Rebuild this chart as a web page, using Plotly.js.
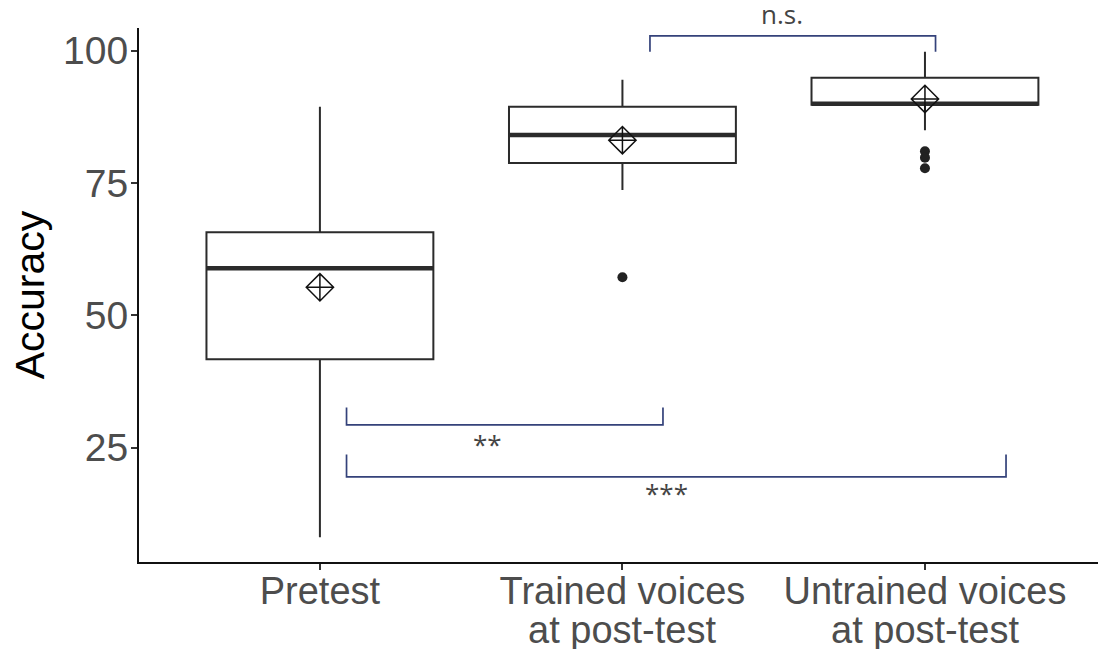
<!DOCTYPE html>
<html>
<head>
<meta charset="utf-8">
<script src="https://cdn.plot.ly/plotly-3.0.1.min.js"></script>
<style>
  html, body { margin: 0; padding: 0; background: #fff; }
  #chart { width: 1098px; height: 649px; }
</style>
</head>
<body>
<div id="chart"></div>
<script>
// Accuracy by test condition: box summaries, means and outliers
const groups = ["Pretest", "Trained voices", "Untrained voices"];
const groupSubline = ["", "at post-test", "at post-test"];
const groupPos = [0, 1, 2];

const q1Values      = [41.7, 78.8, 89.8];
const medianValues  = [58.9, 84.1, 90.0];
const q3Values      = [65.7, 89.4, 94.9];
const lowerWhisker  = [8.1, 73.7, 85.0];
const upperWhisker  = [89.4, 94.5, 99.8];
const meanValues    = [55.3, 83.1, 90.9];

// Individual outlying scores
const outlierGroup = [1, 2, 2, 2];
const outlierValue = [57.2, 81.0, 79.8, 77.8];

// Pairwise comparisons: from group, to group, bar level, tip level, label
const cmpFrom  = [1.091, 0.088, 0.088];
const cmpTo    = [2.035, 1.134, 2.268];
const cmpLevel = [102.8, 29.3, 19.5];
const cmpTip   = [99.8, 32.6, 23.7];
const cmpLabel = ["n.s.", "**", "***"];
const cmpLabelX = [1.529, 0.554, 1.147];
const cmpLabelY = [102.8, 25.7, 16.4];
const cmpLabelShift = [22, 0, 0];

const yTicks = [25, 50, 75, 100];

const BOX_W = 0.75;
const ink = "#2b2b2b";
const axisFont = "Liberation Sans, Arial, sans-serif";

const boxTrace = {
  type: "box",
  x: groupPos,
  q1: q1Values,
  median: medianValues,
  q3: q3Values,
  lowerfence: lowerWhisker,
  upperfence: upperWhisker,
  width: BOX_W,
  whiskerwidth: 0,
  boxpoints: false,
  fillcolor: "#ffffff",
  line: { color: ink, width: 2 },
  hoverinfo: "skip",
  showlegend: false
};

// Heavier median bars drawn over each box
const medX = [], medY = [];
groupPos.forEach((g, i) => {
  medX.push(g - BOX_W / 2, g + BOX_W / 2, null);
  medY.push(medianValues[i], medianValues[i], null);
});
const medianTrace = {
  type: "scatter", mode: "lines",
  x: medX, y: medY,
  line: { color: ink, width: 4.5 },
  hoverinfo: "skip", showlegend: false
};

const outlierTrace = {
  type: "scatter", mode: "markers",
  x: outlierGroup, y: outlierValue,
  marker: { symbol: "circle", size: 10, color: "#222222" },
  hoverinfo: "skip", showlegend: false
};

const meanTrace = {
  type: "scatter", mode: "markers",
  x: groupPos, y: meanValues,
  marker: { symbol: "diamond-cross-open", size: 21, color: "#111111", line: { width: 1.5, color: "#111111" } },
  hoverinfo: "skip", showlegend: false
};

// Comparison brackets
const brX = [], brY = [];
cmpFrom.forEach((a, i) => {
  brX.push(a, a, cmpTo[i], cmpTo[i], null);
  brY.push(cmpTip[i], cmpLevel[i], cmpLevel[i], cmpTip[i], null);
});
const bracketTrace = {
  type: "scatter", mode: "lines",
  x: brX, y: brY,
  line: { color: "#34427a", width: 1.7 },
  cliponaxis: false,
  hoverinfo: "skip", showlegend: false
};

const annotations = cmpLabel.map((t, i) => ({
  x: cmpLabelX[i], y: cmpLabelY[i], xref: "x", yref: "y",
  yshift: cmpLabelShift[i],
  text: t, showarrow: false,
  font: { family: "Open Sans, sans-serif", size: 26, color: "#444444" },
  xanchor: "center", yanchor: "middle"
}));

// Second line of the category names, set under the axis labels
groupSubline.forEach((t, i) => {
  if (!t) return;
  annotations.push({
    x: groupPos[i], y: -0.127, xref: "x", yref: "paper",
    text: t, showarrow: false,
    font: { family: axisFont, size: 38, color: "#4d4d4d" },
    xanchor: "center", yanchor: "middle"
  });
});

const layout = {
  width: 1098, height: 649,
  margin: { l: 139, r: 0, t: 28, b: 87 },
  paper_bgcolor: "#ffffff",
  plot_bgcolor: "#ffffff",
  showlegend: false,
  xaxis: {
    range: [-0.598, 2.572],
    tickmode: "array", tickvals: groupPos, ticktext: groups,
    showline: true, linecolor: "#111111", linewidth: 2,
    ticks: "outside", ticklen: 6, tickwidth: 2, tickcolor: "#333333",
    ticklabelstandoff: -12,
    showgrid: false, zeroline: false,
    tickfont: { family: axisFont, size: 38, color: "#4d4d4d" }
  },
  yaxis: {
    range: [3.4, 104.3],
    tickmode: "array", tickvals: yTicks,
    showline: true, linecolor: "#111111", linewidth: 2,
    ticks: "outside", ticklen: 6, tickwidth: 2, tickcolor: "#333333",
    ticklabelstandoff: -5,
    showgrid: false, zeroline: false,
    tickfont: { family: axisFont, size: 39, color: "#4d4d4d" },
    title: { text: "Accuracy", standoff: 6, font: { family: axisFont, size: 41, color: "#000000" } }
  },
  annotations: annotations
};

Plotly.newPlot("chart", [boxTrace, medianTrace, outlierTrace, meanTrace, bracketTrace], layout, { staticPlot: true, displayModeBar: false });
</script>
</body>
</html>
